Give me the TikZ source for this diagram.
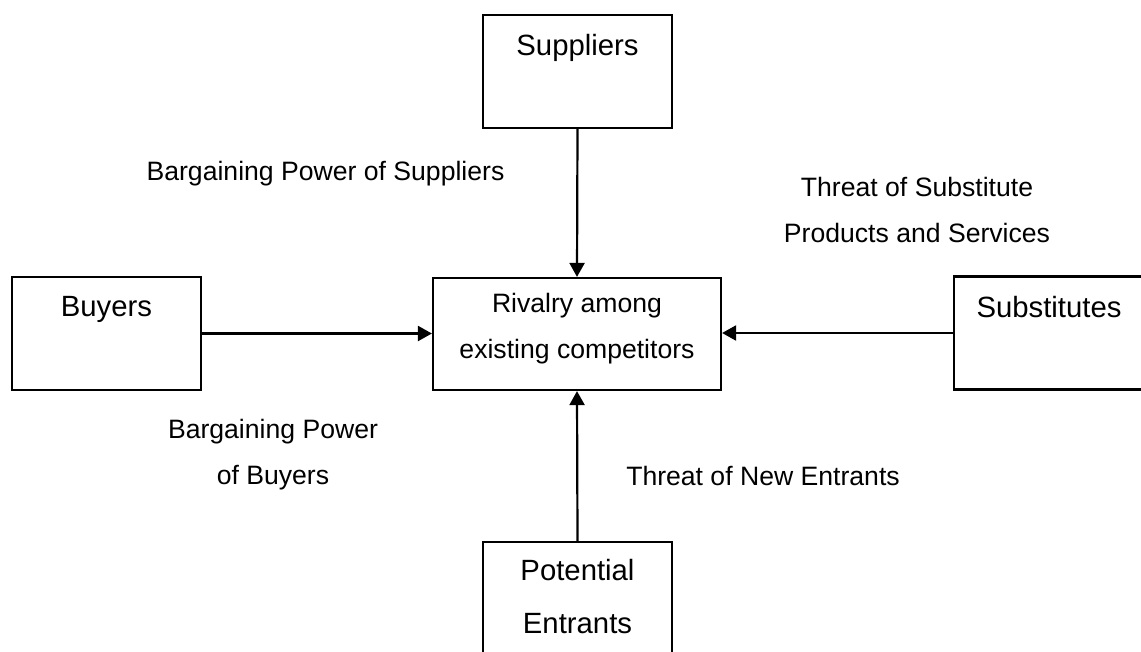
\documentclass[tikz,border=0pt]{standalone}
\usepackage{fontspec}
\setmainfont{Liberation Sans}
\usetikzlibrary{arrows.meta}
\begin{document}
\begin{tikzpicture}[x=1pt,y=-1pt,
  force/.style={draw=black,line width=2.2pt,minimum width=189pt,minimum height=113pt,inner sep=0pt},
  core/.style={draw=black,line width=2.2pt,minimum width=288pt,minimum height=112pt,inner sep=0pt},
  boxtext/.style={font=\fontsize{29.3}{53}\selectfont,inner sep=0pt,anchor=base,align=center},
  lbl/.style={font=\fontsize{26.6}{46}\selectfont,inner sep=0pt,anchor=base,align=center},
  flow/.style={line width=2.2pt,-{Triangle[length=14pt,width=15pt]}}]
\useasboundingbox[fill=white] (0,0) rectangle (1141,651);

% boxes
\node[force] (sup) at (577.5,71.5) {};
\node[core]  (riv) at (577,334) {};
\node[force] (buy) at (106.5,333.5) {};
\node[force] (subs) at (1048.5,333) {};
\node[force] (ent) at (577.5,598.5) {};

% box captions (base anchor sits on the last line)
\node[boxtext] (supT) at (577.5,55) {Suppliers};
\node[boxtext] (buyT) at (106.5,316) {Buyers};
\node[boxtext] (subsT) at (1049,317) {Substitutes};
\node[lbl] (rivT) at (577,358) {Rivalry among\\existing competitors};
\node[boxtext] (entT) at (577.5,633) {Potential\\Entrants};

% force labels
\node[lbl] (l1) at (325.5,180) {Bargaining Power of Suppliers};
\node[lbl] (l2) at (917,242) {Threat of Substitute\\Products and Services};
\node[lbl] (l3) at (273,484) {Bargaining Power\\of Buyers};
\node[lbl] (l4) at (763,485) {Threat of New Entrants};

% arrows into the rivalry box
\draw[flow] (sup.south) -- (riv.north);
\draw[flow] (ent.north) -- (riv.south);
\draw[flow] (buy.east) -- (buy.east -| riv.west);
\draw[flow] (subs.west) -- (subs.west -| riv.east);
\end{tikzpicture}
\end{document}
